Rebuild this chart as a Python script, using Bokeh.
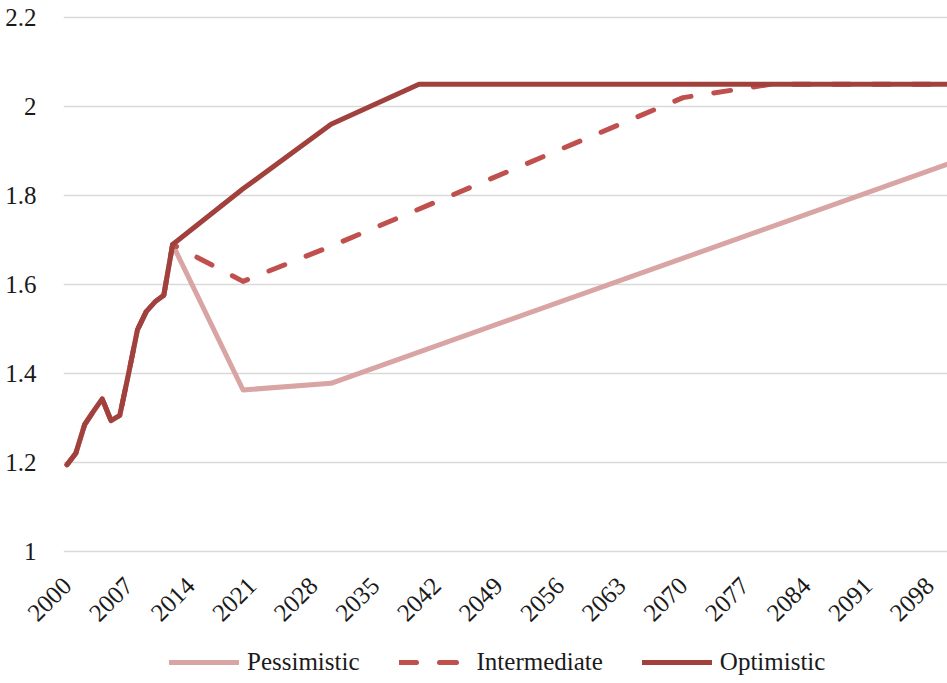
import math
from bokeh.plotting import figure
from bokeh.layouts import column
from bokeh.models import (Range1d, FixedTicker, CustomJSTickFormatter, Legend,
                          LegendItem, ColumnDataSource)
from bokeh.embed import file_html
from bokeh.resources import INLINE

# ---- data ----
hist_years = [2000, 2001, 2002, 2003, 2004, 2005, 2006, 2007, 2008, 2009, 2010, 2011, 2012]
hist_vals = [1.195, 1.221, 1.285, 1.315, 1.343, 1.294, 1.306, 1.400, 1.498, 1.539, 1.561, 1.576, 1.690]

pess_years = [2020, 2030, 2100]
pess_vals = [1.363, 1.378, 1.870]

inter_years = [2020, 2030, 2070, 2080, 2100]
inter_vals = [1.607, 1.686, 2.020, 2.050, 2.050]

opt_years = [2020, 2030, 2040, 2100]
opt_vals = [1.815, 1.960, 2.050, 2.050]

series_names = ["Pessimistic", "Intermediate", "Optimistic"]
x_ticks = [2000, 2007, 2014, 2021, 2028, 2035, 2042, 2049, 2056, 2063, 2070, 2077, 2084, 2091, 2098]
y_ticks = [1.0, 1.2, 1.4, 1.6, 1.8, 2.0, 2.2]

FONT = "Liberation Serif"

p = figure(frame_width=884, frame_height=538,
           x_range=Range1d(1999.6, 2100.05), y_range=Range1d(0.9955, 2.2045),
           output_backend="svg", toolbar_location=None,
           min_border_left=63, min_border_right=0, min_border_top=15, min_border_bottom=92)
p.outline_line_color = None
p.background_fill_color = "white"
p.border_fill_color = "white"

p.xgrid.visible = False
p.ygrid.grid_line_color = "#D9D9D9"
p.ygrid.grid_line_width = 1.6
p.ygrid.ticker = FixedTicker(ticks=y_ticks)

p.yaxis.ticker = FixedTicker(ticks=y_ticks)
p.yaxis.formatter = CustomJSTickFormatter(code="return tick.toFixed(1).replace(/\\.0$/, '');")
p.xaxis.ticker = FixedTicker(ticks=x_ticks)
p.xaxis.major_label_orientation = math.pi / 4
for ax in (p.xaxis, p.yaxis):
    ax.axis_line_color = None
    ax.major_tick_line_color = None
    ax.minor_tick_line_color = None
    ax.major_label_text_font = FONT
    ax.major_label_text_color = "#1a1a1a"
p.yaxis.major_label_text_font_size = "25px"
p.xaxis.major_label_text_font_size = "25px"
p.yaxis.major_label_standoff = 21
p.xaxis.major_label_standoff = 22

colors = ["#D9A5A4", "#C0504D", "#A0413E"]
dashes = ["solid", "17 23", "solid"]
proj = [(pess_years, pess_vals), (inter_years, inter_vals), (opt_years, opt_vals)]
sources = []
for (yrs, vals), c, d in zip(proj, colors, dashes):
    src = ColumnDataSource(dict(x=hist_years + yrs, y=hist_vals + vals))
    sources.append(src)
    p.line("x", "y", source=src, line_color=c, line_width=5,
           line_dash=d, line_cap="round", line_join="round")

# ---- legend strip below the chart (same series, drawn out of its view) ----
leg = figure(width=947, height=34, x_range=Range1d(0, 1), y_range=Range1d(0, 1),
             x_axis_type=None, y_axis_type=None, output_backend="svg",
             toolbar_location=None, min_border=0)
leg.outline_line_color = None
leg.xgrid.visible = False
leg.ygrid.visible = False

items = []
for name, src, c, d in zip(series_names, sources, colors, dashes):
    r = leg.line("x", "y", source=src, line_color=c, line_width=5, line_dash=d,
                 line_cap="round", line_join="round")
    items.append(LegendItem(label=name, renderers=[r]))

legend = Legend(items=items, orientation="horizontal", location=(106, 2),
                glyph_width=70, glyph_height=30, label_height=30,
                label_standoff=8, spacing=39,
                padding=0, margin=0, border_line_color=None,
                background_fill_alpha=0,
                label_text_font=FONT, label_text_font_size="25px",
                label_text_color="#1a1a1a")
leg.add_layout(legend, "center")

layout = column(p, leg, spacing=0)
open("out.html", "w").write(file_html(layout, INLINE))
